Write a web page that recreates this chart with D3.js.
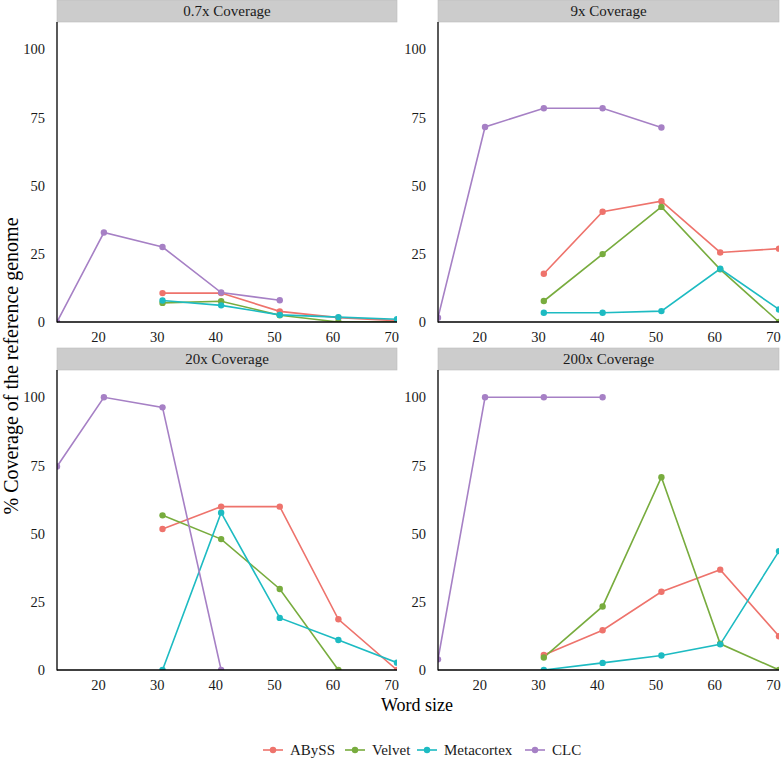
<!DOCTYPE html>
<html><head><meta charset="utf-8">
<script src="https://cdn.jsdelivr.net/npm/d3@7"></script>
<style>body{margin:0;background:#fff}svg{display:block}text{font-family:"Liberation Serif","Times New Roman",serif}</style>
</head><body>
<script>
const wordSizes = [13, 21, 31, 41, 51, 61, 71];
const panels = ["0.7x Coverage", "9x Coverage", "20x Coverage", "200x Coverage"];
const seriesNames = ["ABySS", "Velvet", "Metacortex", "CLC"];
const colors = ["#EE736C", "#78AC3E", "#1DBBC2", "#A680C5"];
const xTicks = [20, 30, 40, 50, 60, 70];
const yTicks = [0, 25, 50, 75, 100];

const abyss = [
  [null, null, 10.6, 10.6, 3.9, 1.6, 0.5],
  [null, null, 17.7, 40.4, 44.3, 25.5, 26.9],
  [null, null, 51.7, 59.9, 59.9, 18.6, 0],
  [null, null, 5.5, 14.6, 28.7, 36.8, 12.4]
];
const velvet = [
  [null, null, 7.0, 7.6, 2.5, 0, 0],
  [null, null, 7.7, 24.9, 42.2, 19.3, 0],
  [null, null, 56.7, 48.0, 29.7, 0, null],
  [null, null, 4.6, 23.3, 70.7, 9.6, 0]
];
const metacortex = [
  [null, null, 7.9, 6.1, 2.6, 1.8, 1.0],
  [null, null, 3.4, 3.4, 4.0, 19.5, 4.6],
  [null, null, 0, 57.7, 19.1, 11.0, 2.7],
  [null, null, 0, 2.6, 5.3, 9.4, 43.6]
];
const clc = [
  [0, 32.8, 27.5, 10.8, 8.0, null, null],
  [1.6, 71.5, 78.4, 78.4, 71.3, null, null],
  [74.6, 100, 96.3, 0, null, null, null],
  [3.9, 100, 100, 100, null, null, null]
];
const allSeries = [abyss, velvet, metacortex, clc];

const W = 781, H = 760;
const svg = d3.select("body").append("svg").attr("width", W).attr("height", H);
const font = "'Liberation Serif', 'Times New Roman', serif";

const cols = [[57, 397], [438, 779]];
const rows = [[22, 322], [370, 670]];
const stripH = 22;

panels.forEach((title, pi) => {
  const c = cols[pi % 2], r = rows[Math.floor(pi / 2)];
  const x = d3.scaleLinear().domain([13, 71]).range(c);
  const y = d3.scaleLinear().domain([0, 110]).range([r[1], r[0]]);
  const g = svg.append("g");
  const clipId = "clip" + pi;
  svg.append("clipPath").attr("id", clipId).append("rect")
    .attr("x", c[0]).attr("y", r[0]).attr("width", c[1] - c[0]).attr("height", r[1] - r[0]);

  g.append("rect").attr("x", c[0]).attr("y", r[0] - stripH).attr("width", c[1] - c[0]).attr("height", stripH)
    .attr("fill", "#cccccc").attr("stroke", "#bdbdbd").attr("stroke-width", 0.6);
  g.append("text").attr("x", (c[0] + c[1]) / 2).attr("y", r[0] - stripH / 2 + 5)
    .attr("text-anchor", "middle").style("font-family", font).attr("font-size", 15).attr("fill", "#1a1a1a").text(title);

  const xa = g.append("g").attr("transform", `translate(0,${r[1]})`)
    .call(d3.axisBottom(x).tickValues(xTicks).tickSize(0).tickPadding(10));
  const ya = g.append("g").attr("transform", `translate(${c[0]},0)`)
    .call(d3.axisLeft(y).tickValues(yTicks).tickSize(0).tickPadding(12));
  [xa, ya].forEach(a => {
    a.attr("font-family", null).attr("font-size", null);
    a.select(".domain").remove();
    a.selectAll("text").style("font-family", font).style("font-size", "14.5px").attr("fill", "#1a1a1a");
  });

  const plot = g.append("g").attr("clip-path", `url(#${clipId})`);
  const line = d3.line().defined(d => d[1] !== null).x(d => x(d[0])).y(d => y(d[1]));
  allSeries.forEach((s, si) => {
    const pts = wordSizes.map((w, i) => [w, s[pi][i]]);
    plot.append("path").datum(pts).attr("d", line).attr("fill", "none")
      .attr("stroke", colors[si]).attr("stroke-width", 1.6);
  });
  allSeries.forEach((s, si) => {
    const pts = wordSizes.map((w, i) => [w, s[pi][i]]).filter(d => d[1] !== null);
    plot.selectAll(null).data(pts).enter().append("circle")
      .attr("cx", d => x(d[0])).attr("cy", d => y(d[1])).attr("r", 3.2).attr("fill", colors[si]);
  });

  g.append("line").attr("x1", c[0]).attr("x2", c[0]).attr("y1", r[0]).attr("y2", r[1] + 0.6)
    .attr("stroke", "#000").attr("stroke-width", 1.3);
  g.append("line").attr("x1", c[0]).attr("x2", c[1]).attr("y1", r[1]).attr("y2", r[1])
    .attr("stroke", "#000").attr("stroke-width", 1.3);
});

svg.append("text").attr("x", 417).attr("y", 711).attr("text-anchor", "middle")
  .style("font-family", font).attr("font-size", 18).attr("fill", "#000").text("Word size");
svg.append("text").attr("transform", "translate(18,366) rotate(-90)").attr("text-anchor", "middle")
  .style("font-family", font).attr("font-size", 20).attr("fill", "#000").text("% Coverage of the reference genome");

const legendX = [263, 345, 417, 525];
seriesNames.forEach((n, i) => {
  const lg = svg.append("g").attr("transform", `translate(${legendX[i]},750)`);
  lg.append("line").attr("x1", 0).attr("x2", 20).attr("y1", 0).attr("y2", 0)
    .attr("stroke", colors[i]).attr("stroke-width", 1.6);
  lg.append("circle").attr("cx", 10).attr("cy", 0).attr("r", 3.2).attr("fill", colors[i]);
  lg.append("text").attr("x", 27).attr("y", 5).style("font-family", font).attr("font-size", 15)
    .attr("fill", "#1a1a1a").text(n);
});
</script>
</body></html>
